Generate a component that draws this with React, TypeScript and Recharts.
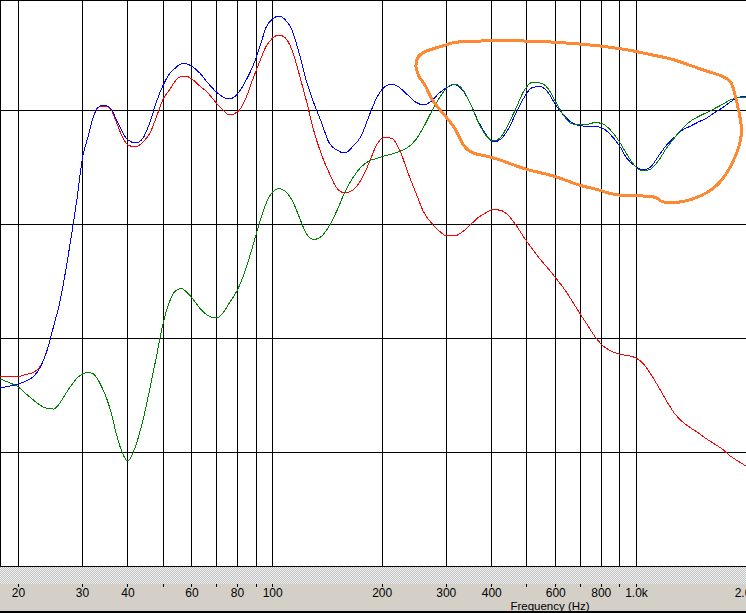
import { CartesianGrid, ComposedChart, Line, XAxis, YAxis } from "recharts";

// frequency grid (Hz) shared by the three measured curves
const FREQ = [
  17.8, 19, 20, 21, 22, 23, 24, 25, 26, 27, 28, 29, 30, 31, 32, 33, 34, 35, 36, 37, 38,
  40, 42, 44, 46, 48, 50, 52, 54, 56, 58, 60, 63, 66, 70, 73, 76, 80, 84, 88, 92, 96,
  100, 104, 108, 113, 118, 124, 130, 136, 143, 150, 158, 166, 175, 184, 193, 203, 213,
  224, 235, 247, 260, 273, 287, 301, 316, 332, 349, 366, 385, 404, 424, 446, 468, 492,
  517, 543, 570, 600, 630, 660, 695, 730, 770, 810, 850, 895, 940, 990, 1040, 1090,
  1150, 1210, 1270, 1340, 1410, 1480, 1560, 1640, 1720, 1810, 1900, 2000,
];

const BLUE = [
  55.61, 55.79, 55.97, 56.23, 56.62, 57.46, 58.95, 61.05, 63.16, 65.97, 69.04, 72.28,
  75.79, 77.54, 79.21, 80.18, 80.4, 80.35, 80.09, 79.3, 78.51, 77.37, 77.11, 77.54,
  78.95, 80.79, 82.19, 83.16, 83.68, 84.04, 84.04, 83.82, 83.25, 82.46, 81.58, 81.14,
  80.97, 81.4, 82.46, 83.77, 85.44, 87.28, 87.98, 88.25, 87.94, 87.02, 85.09, 82.46,
  80.53, 78.95, 77.11, 76.49, 76.23, 76.8, 77.72, 79.47, 81.05, 82.02, 82.28, 81.93,
  81.32, 80.7, 80.44, 80.79, 81.49, 81.97, 82.24, 81.76, 80.61, 79.12, 77.9, 77.19,
  77.46, 78.42, 79.83, 81.14, 81.97, 82.06, 81.58, 80.44, 79.56, 78.95, 78.64, 78.57,
  78.55, 78.38, 77.81, 76.93, 75.79, 75.09, 74.74, 74.96, 75.97, 76.93, 77.59, 78.25,
  78.6, 78.95, 79.3, 79.78, 80.18, 80.7, 81.1, 81.19,
];

const RED = [
  56.58, 56.58, 56.62, 56.8, 56.97, 57.54, 58.95, 61.05, 63.16, 65.97, 69.04, 72.28,
  75.79, 77.54, 79.21, 80.18, 80.35, 80.31, 80.0, 79.12, 78.16, 76.93, 76.76, 77.19,
  77.98, 79.47, 80.97, 81.76, 82.54, 82.94, 82.94, 82.72, 82.11, 81.58, 80.61, 80.0,
  79.56, 79.83, 80.88, 82.63, 84.21, 85.61, 86.32, 86.58, 86.36, 85.26, 83.25, 80.7,
  78.07, 76.14, 74.47, 73.16, 72.72, 72.98, 73.86, 75.35, 76.93, 77.59, 77.5, 76.4,
  74.56, 72.81, 71.05, 70.09, 69.39, 68.95, 68.95, 69.3, 69.91, 70.53, 70.97, 71.27,
  71.19, 70.7, 69.83, 68.77, 67.81, 66.93, 66.14, 65.26, 64.39, 63.42, 62.28, 61.23,
  60.09, 59.3, 58.86, 58.6, 58.47, 58.29, 57.81, 56.93, 55.7, 54.47, 53.42, 52.63,
  52.11, 51.67, 51.14, 50.7, 50.26, 49.65, 49.21, 48.77,
];

const GREEN = [
  56.4, 56.05, 55.7, 55.09, 54.56, 54.08, 53.82, 53.77, 54.3, 55.13, 55.88, 56.49,
  56.84, 56.97, 56.89, 56.4, 55.61, 54.65, 53.42, 51.84, 50.53, 49.21, 50.53, 52.81,
  55.61, 58.51, 61.32, 63.16, 64.12, 64.34, 64.04, 63.51, 62.63, 62.02, 61.76, 62.19,
  63.07, 64.21, 65.88, 67.98, 70.09, 71.84, 72.81, 73.11, 72.9, 72.11, 70.7, 69.12,
  68.64, 68.9, 69.83, 71.14, 72.81, 74.04, 75.0, 75.53, 75.75, 75.97, 76.14, 76.4,
  76.71, 77.37, 78.51, 79.83, 81.05, 81.93, 82.28, 81.84, 80.61, 79.04, 77.81, 77.28,
  77.63, 78.86, 80.26, 81.76, 82.41, 82.37, 81.93, 80.7, 79.56, 78.82, 78.69, 78.73,
  78.9, 78.77, 78.2, 77.28, 76.14, 75.09, 74.65, 74.78, 75.57, 76.67, 77.54, 78.42,
  79.04, 79.43, 79.78, 80.13, 80.48, 80.88, 81.07, 81.1,
];

// hand-drawn orange annotation loop
const LOOP_FREQ = [
  247.5, 258.1, 299.2, 332.4, 496.3, 695, 822.7, 973.2, 1104.5, 1253.2, 1453.1, 1683.6,
  1813.2, 1871.5, 1931.5, 1931.5, 1831.6, 1683.6, 1515.2, 1335.4, 1176.7, 1104.5, 894.9,
  788.4, 695, 599.6, 506.7, 446.4, 393.4, 354, 332.4, 318.8, 299.2, 274.9, 263.7, 252.7,
  247.5,
];
const LOOP_DB = [
  83.8, 85.0, 85.7, 85.99, 86.05, 85.79, 85.55, 85.2, 84.83, 84.45, 83.75, 83.07, 82.48,
  81.17, 79.12, 77.37, 75.33, 73.57, 72.54, 71.96, 71.96, 72.4, 72.54, 72.98, 73.42,
  74.15, 74.74, 75.33, 75.9, 76.26, 77.08, 78.25, 79.41, 80.88, 82.04, 82.92, 83.8,
];

const X_TICKS = [20, 30, 40, 50, 60, 70, 80, 90, 100, 200, 300, 400, 500, 600, 700, 800, 900, 1000, 2000];
const X_LABELS: Record<number, string> = {
  20: "20", 30: "30", 40: "40", 60: "60", 80: "80", 100: "100", 200: "200", 300: "300",
  400: "400", 600: "600", 800: "800", 1000: "1.0k", 2000: "2.0k",
};
const Y_TICKS = [50, 60, 70, 80];

const FONT = "'Liberation Sans', Arial, sans-serif";

const rows = FREQ.map((f, i) => ({ f, blue: BLUE[i], red: RED[i], green: GREEN[i] }));
const loop = LOOP_FREQ.map((f, i) => ({ f, db: LOOP_DB[i] }));

const noDot = () => null;

function FreqTick(props: any) {
  const { x, y, payload } = props;
  const label = X_LABELS[payload.value];
  return (
    <g>
      <line x1={x} x2={x} y1={y + 18} y2={y + 21} stroke="#000" />
      {label && (
        <text x={x} y={y + 31} textAnchor="middle" fontSize={12} fontFamily={FONT} fill="#000">
          {label}
        </text>
      )}
    </g>
  );
}

export default function App() {
  return (
    <div
      style={{
        position: "absolute",
        left: 0,
        top: 0,
        width: 746,
        height: 613,
        overflow: "hidden",
        background: "#fff",
        shapeRendering: "crispEdges",
      }}
    >
      <div
        style={{
          position: "absolute",
          left: 0,
          top: 566,
          width: 746,
          height: 18,
          background: "repeating-conic-gradient(#bdbdbd 0 25%, #f4f4f4 0 50%) 0 0 / 2px 2px",
        }}
      />
      <div style={{ position: "absolute", left: 0, top: 584, width: 746, height: 27, background: "#d4d0c8" }} />
      <div style={{ position: "absolute", left: 0, top: 611, width: 746, height: 2, background: "#000" }} />
      <ComposedChart width={746} height={613} data={rows} margin={{ top: 0, right: 0, bottom: 0, left: 0 }}>
        <CartesianGrid stroke="#000" strokeWidth={1} />
        <XAxis
          dataKey="f"
          type="number"
          scale="log"
          domain={[17.8, 2000]}
          allowDataOverflow
          ticks={X_TICKS}
          interval={0}
          height={47}
          tickSize={0}
          tickMargin={0}
          tickLine={false}
          axisLine={{ stroke: "#000" }}
          tick={<FreqTick />}
          label={{
            content: ({ viewBox }: any) => (
              <text x={viewBox.x + 550} y={viewBox.y + 44} textAnchor="middle" fontSize={11.5} fontFamily={FONT} fill="#000">
                Frequency (Hz)
              </text>
            ),
          }}
        />
        <YAxis hide type="number" domain={[40, 89.65]} ticks={Y_TICKS} allowDataOverflow />
        <Line dataKey="red" type="monotone" stroke="#ff0000" strokeWidth={1} dot={noDot} activeDot={false} isAnimationActive={false} />
        <Line dataKey="blue" type="monotone" stroke="#0000ff" strokeWidth={1} dot={noDot} activeDot={false} isAnimationActive={false} />
        <Line dataKey="green" type="monotone" stroke="#008000" strokeWidth={1} dot={noDot} activeDot={false} isAnimationActive={false} />
        <Line
          data={loop}
          dataKey="db"
          type="natural"
          stroke="#ff8833"
          strokeWidth={3}
          dot={noDot}
          activeDot={false}
          isAnimationActive={false}
        />
      </ComposedChart>
    </div>
  );
}
